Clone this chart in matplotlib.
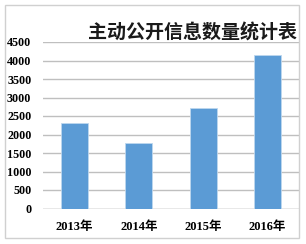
import matplotlib.pyplot as plt
from matplotlib.patches import Rectangle
import numpy as np

years = ["2013年", "2014年", "2015年", "2016年"]
counts = [2300, 1780, 2710, 4150]
yticks = [0, 500, 1000, 1500, 2000, 2500, 3000, 3500, 4000, 4500]
title = "主动公开信息数量统计表"

plt.rcParams['font.family'] = ['Liberation Serif', 'Noto Sans CJK SC', 'DejaVu Sans']

fig = plt.figure(figsize=(3.06, 2.44), dpi=100)
fig.patch.set_facecolor('white')
ax = fig.add_axes([42.5 / 306, 35.5 / 244, 257 / 306, 166.5 / 244])

x = np.arange(len(years))
ax.bar(x, counts, width=0.42, color='#5B9BD5', edgecolor='#BDD7EE', linewidth=0.6, zorder=3)

ax.set_xlim(-0.5, len(years) - 0.5)
ax.set_ylim(0, 4500)
ax.set_yticks(yticks)
ax.set_yticklabels([str(v) for v in yticks], fontsize=8.7, fontweight='bold')
ax.set_xticks(x)
ax.set_xticklabels(years, fontsize=9, fontweight='bold')
ax.tick_params(axis='y', length=0, pad=8)
ax.tick_params(axis='x', length=0, pad=9)
ax.grid(axis='y', color='#BFBFBF', linewidth=1.0, zorder=0)
for s in ax.spines.values():
    s.set_visible(False)
ax.axhline(0, color='#BFBFBF', linewidth=1.0, zorder=1)

fig.text(297 / 306, (244 - 33) / 244, title, ha='right', va='center',
         fontsize=13.7, fontweight='bold', color='#1a1a1a',
         family=['Noto Sans CJK SC', 'DejaVu Sans'])

fig.patches.append(Rectangle((5 / 306, 6.5 / 244), 294 / 306, 232.5 / 244,
                             transform=fig.transFigure, fill=False,
                             edgecolor='#D0D0D0', linewidth=1.0))

fig.savefig("out.png", dpi=100)
